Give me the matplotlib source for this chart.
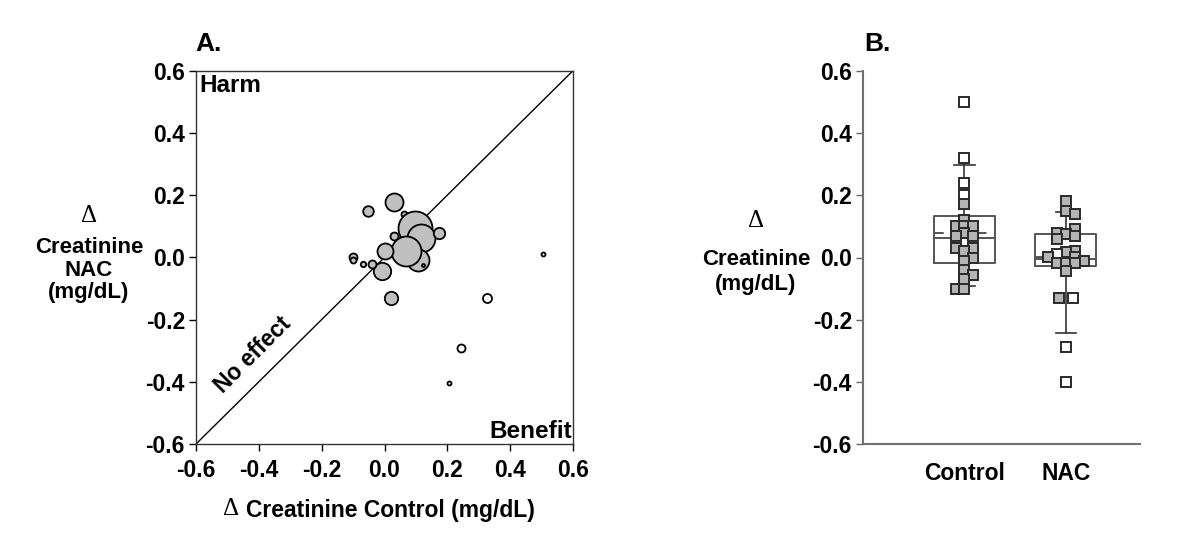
import matplotlib
matplotlib.use("Agg")
import matplotlib.pyplot as plt
import numpy as np

plt.rcParams['font.family'] = ['Liberation Sans', 'DejaVu Sans']
plt.rcParams['font.weight'] = 'bold'

# --- Panel A: per-study change in creatinine (bubble size ~ study weight) ---
ctrl_change = [0.03, -0.053, 0.062, 0.097, 0.116, 0.173, 0.107, 0.031, 0.067, 0.123,
               0.0, -0.007, -0.039, -0.068, -0.10, -0.10, 0.022,
               0.505, 0.325, 0.243, 0.204]
nac_change = [0.178, 0.15, 0.138, 0.093, 0.061, 0.078, -0.01, 0.068, 0.02, -0.023,
              0.02, -0.043, -0.022, -0.022, 0.0, -0.01, -0.13,
              0.01, -0.132, -0.293, -0.403]
study_weight = [9, 5.3, 3, 17, 14, 5.7, 11, 4, 15, 1.5,
                8, 8.7, 4, 2.7, 4, 3, 6.7,
                2, 4.5, 4, 2]
study_open = [False] * 17 + [True] * 4

# --- Panel B: individual study values ---
control_vals = [0.50, 0.32, 0.24, 0.20, 0.171, 0.12, 0.10, 0.10, 0.10, 0.08, 0.07, 0.07,
                0.03, 0.03, 0.02, 0.0, -0.01, -0.04, -0.055, -0.07, -0.10, -0.10]
control_slot = [0, 0, 0, 0, 0, 0, -1, 0, 1, 0, -1, 1,
                -1, 1, 0, 1, 0, 0, 1, 0, -1, 0]
control_open = [True, True, True, True] + [False] * 18

nac_vals = [0.18, 0.15, 0.14, 0.092, 0.08, 0.077, 0.07, 0.059, 0.022, 0.019, 0.012,
            0.001, 0.001, -0.01, -0.018, -0.018, -0.019, -0.042, -0.13, -0.13, -0.289, -0.40]
nac_slot = [0, 0, 1, 1, -1, 0, 1, -1, 1, 0, -1,
            -2, 1, 2, -1, 0, 1, 0, -0.75, 0.75, 0, 0]
nac_open = [False] * 10 + [True] + [False] * 8 + [True, True, True]

# box summaries (q1, median, q3, whiskers, mean)
box_stats = [
    dict(label='Control', q1=-0.017, med=0.062, q3=0.133, whislo=-0.091, whishi=0.296, mean=0.08, fliers=[]),
    dict(label='NAC', q1=-0.026, med=-0.005, q3=0.077, whislo=-0.242, whishi=0.147, mean=0.003, fliers=[]),
]

ticks = [-0.6, -0.4, -0.2, 0.0, 0.2, 0.4, 0.6]
tick_labels = ['-0.6', '-0.4', '-0.2', '0.0', '0.2', '0.4', '0.6']

fig = plt.figure(figsize=(12, 5.48), dpi=100)
W, H = 1200, 548

def px_axes(l, t, r, b):
    return fig.add_axes([l / W, 1 - b / H, (r - l) / W, (b - t) / H])

FS = 16.5   # tick labels
LS = 16     # axis labels
DS = 18     # delta sign

# ---------------- Panel A ----------------
axA = px_axes(196, 70.7, 573, 444)
axA.plot([-0.6, 0.6], [-0.6, 0.6], color='black', lw=1.0, zorder=1)
for i, (x, y, r, op) in enumerate(zip(ctrl_change, nac_change, study_weight, study_open)):
    s = (2 * r * 0.72) ** 2
    axA.scatter([x], [y], s=s, facecolor='white' if op else '#c0c0c0',
                edgecolor='black', linewidth=1.3, zorder=2 + i)
axA.set_xlim(-0.6, 0.6)
axA.set_ylim(-0.6, 0.6)
axA.set_xticks(ticks)
axA.set_xticklabels(tick_labels)
axA.set_yticks(ticks)
axA.set_yticklabels(tick_labels)
axA.tick_params(direction='out', length=5, width=1, labelsize=FS, pad=3)
axA.tick_params(axis='x', pad=6)
for sp in axA.spines.values():
    sp.set_linewidth(1.0)
    sp.set_color('#333333')
axA.text(0.008, 0.99, 'Harm', transform=axA.transAxes, fontsize=17.5, ha='left', va='top')
axA.text(0.998, 0.003, 'Benefit', transform=axA.transAxes, fontsize=17.5, ha='right', va='bottom')
axA.text(-0.42, -0.315, 'No effect', rotation=45, fontsize=16.5, ha='center', va='center',
         rotation_mode='anchor')

fig.text(195 / W, 1 - 44 / H, 'A.', fontsize=19, ha='left', va='center')
fig.text(89 / W, 1 - 216 / H, '\u0394', family='Liberation Serif', weight='normal',
         fontsize=DS, ha='center', va='center')
fig.text(89 / W, 1 - 270 / H, 'Creatinine\nNAC\n(mg/dL)', fontsize=LS, ha='center',
         va='center', linespacing=1.12)
fig.text(231 / W, 1 - 509 / H, '\u0394', family='Liberation Serif', weight='normal',
         fontsize=DS, ha='center', va='center')
fig.text(246 / W, 1 - 510 / H, 'Creatinine Control (mg/dL)', fontsize=FS, ha='left', va='center')

# ---------------- Panel B ----------------
axB = px_axes(863, 70.7, 1140, 444.3)
step = 0.088
gray_line = '#555555'
axB.bxp(box_stats, positions=[1, 2], widths=0.6, capwidths=[0.2, 0.2], showmeans=True,
        meanline=True, showfliers=False,
        boxprops=dict(color=gray_line, lw=1.4),
        medianprops=dict(color=gray_line, lw=1.4),
        meanprops=dict(color=gray_line, lw=1.4, linestyle=(0, (5, 6))),
        whiskerprops=dict(color='#333333', lw=1.2),
        capprops=dict(color='#333333', lw=1.2))

for pos, vals, slots, opens in [(1, control_vals, control_slot, control_open),
                                (2, nac_vals, nac_slot, nac_open)]:
    xs = pos + np.array(slots) * step
    for x, y, op in zip(xs, vals, opens):
        axB.plot([x], [y], marker='s', markersize=6.8, markerfacecolor='white' if op else '#b4b4b4',
                 markeredgecolor='#2a2a2a', markeredgewidth=1.4, linestyle='none', zorder=5)

axB.set_xlim(0, 2.73)
axB.set_ylim(-0.6, 0.6)
axB.set_yticks(ticks)
axB.set_yticklabels(tick_labels)
axB.set_xticks([1, 2])
axB.set_xticklabels(['Control', 'NAC'])
axB.tick_params(axis='y', direction='out', length=5, width=1, color='#666666', labelsize=FS, pad=3)
axB.tick_params(axis='x', length=0, labelsize=FS, pad=13)
axB.spines['top'].set_visible(False)
axB.spines['right'].set_visible(False)
for side in ['left', 'bottom']:
    axB.spines[side].set_color('#707070')
    axB.spines[side].set_linewidth(1.5)

fig.text(864 / W, 1 - 44 / H, 'B.', fontsize=19, ha='left', va='center')
fig.text(756 / W, 1 - 221 / H, '\u0394', family='Liberation Serif', weight='normal',
         fontsize=DS, ha='center', va='center')
fig.text(756 / W, 1 - 272 / H, 'Creatinine\n(mg/dL)', fontsize=LS, ha='center',
         va='center', linespacing=1.3)

fig.savefig('out.png', dpi=100)
